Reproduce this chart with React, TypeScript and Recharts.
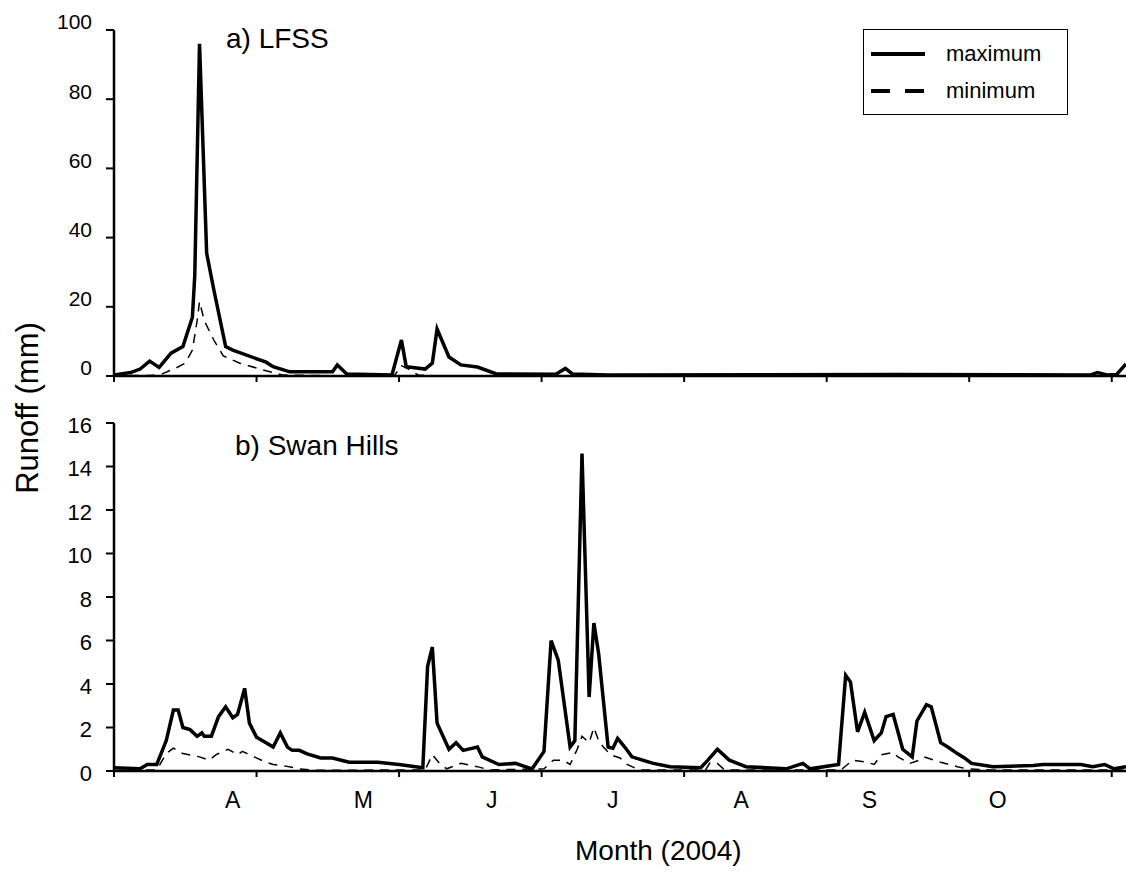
import * as React from "react"
import { LineChart, Line, XAxis, YAxis, Legend } from "recharts"

// day index 0 = start of the record, ticks every 30 days
const dayTicks = [0, 30, 60, 90, 120, 150, 180, 210]
const monthLabels = ["A", "M", "J", "J", "A", "S", "O"]
const monthLabelDays = [25, 52.5, 79.5, 105, 132, 159, 186]
const lfssTicks = [0, 20, 40, 60, 80, 100]
const swanTicks = [0, 2, 4, 6, 8, 10, 12, 14, 16]

// [day, runoff mm]
const lfssMax: Array<[number, number]> = [
  [0, 0.3], [3.5, 1], [5.5, 2], [7.5, 4.3], [9.5, 2.5], [12, 6.6], [14.5, 8.5], [16.5, 17], [17, 29],
  [18, 96], [19.5, 35.5], [21, 25], [23.5, 8.5], [25, 7.5], [32, 4], [33.5, 2.7], [37, 1.2], [46, 1.2],
  [47, 3.2], [49, 0.6], [58.5, 0.3], [60.5, 10.4], [61.5, 2.7], [65.5, 2], [67, 3.7], [68, 13.6],
  [70.5, 5.5], [73, 3.2], [76.5, 2.6], [80.5, 0.6], [93, 0.5], [95, 2.2], [96.5, 0.6], [104, 0.3],
  [165, 0.4], [205.5, 0.3], [207, 1.0], [209, 0.3], [211, 0.4], [213, 3.5],
]

const lfssMin: Array<[number, number]> = [
  [0, 0.1], [9.5, 0.2], [13, 2.3], [15, 3.7], [16.5, 7.5], [17.5, 16], [18, 21.5], [19, 16], [21, 10.4],
  [23, 5.8], [26.5, 3.7], [32, 1.5], [35.5, 0.3], [45, 0.1], [59, 0.1], [60.5, 3], [62, 2], [64, 0.3],
  [67, 0.1], [213, 0.1],
]

const swanMax: Array<[number, number]> = [
  [0, 0.15], [5.5, 0.1], [7, 0.3], [9, 0.3], [11, 1.4], [12.5, 2.8], [13.5, 2.8], [14.5, 2.0], [16, 1.9],
  [17.5, 1.6], [18.5, 1.75], [19, 1.6], [20.5, 1.6], [22, 2.5], [23.5, 2.95], [25, 2.45], [26, 2.6],
  [27.5, 3.8], [28.5, 2.2], [30, 1.55], [32, 1.3], [33.5, 1.1], [35, 1.75], [36.5, 1.1], [37.5, 0.95],
  [39, 0.95], [40.5, 0.8], [43.5, 0.6], [46, 0.6], [49.5, 0.4], [55.5, 0.4], [60, 0.3], [65, 0.15],
  [66, 4.8], [67, 5.7], [68, 2.2], [70.5, 1.0], [72, 1.3], [73.5, 0.95], [76.5, 1.1], [77.5, 0.65],
  [81, 0.3], [84.5, 0.35], [88, 0.1], [90.5, 0.9], [92, 6.0], [93.5, 5.1], [96, 1.1], [97, 1.4],
  [98.5, 14.6], [100, 3.4], [101, 6.8], [102, 5.4], [104, 1.1], [105, 1.05], [106, 1.5], [107.5, 1.1],
  [109, 0.65], [113.5, 0.35], [117, 0.2], [123.5, 0.15], [125, 0.5], [127, 1.0], [129.5, 0.5],
  [133, 0.2], [141.5, 0.1], [145, 0.35], [146.5, 0.1], [152.5, 0.3], [154, 4.4], [155, 4.1],
  [156.5, 1.8], [158, 2.7], [160, 1.4], [161.5, 1.75], [162.5, 2.5], [164, 2.6], [166, 1.0],
  [168, 0.65], [169, 2.3], [171, 3.05], [172, 2.95], [174, 1.3], [175.5, 1.1], [177.5, 0.8],
  [179, 0.6], [180.5, 0.35], [185, 0.2], [193.5, 0.25], [195.5, 0.3], [203.5, 0.3], [206, 0.2],
  [208.5, 0.3], [210.5, 0.1], [213, 0.2],
]

const swanMin: Array<[number, number]> = [
  [0, 0.02], [9, 0.05], [11, 0.8], [12.5, 1.05], [14.5, 0.8], [18, 0.65], [20, 0.5], [21.5, 0.75],
  [24, 1.0], [26, 0.75], [27, 0.9], [29.5, 0.65], [32, 0.4], [33.5, 0.3], [35.5, 0.25], [39, 0.1],
  [42, 0.03], [65.5, 0.05], [67, 0.75], [68.5, 0.35], [70, 0.1], [73, 0.35], [76.5, 0.2], [79, 0.05],
  [90.5, 0.1], [92.5, 0.5], [94.5, 0.5], [96, 0.3], [97.5, 1.0], [98.5, 1.6], [100, 1.3], [101, 2.0],
  [102, 1.4], [103, 1.1], [104.5, 0.75], [106.5, 0.6], [108, 0.3], [110.5, 0.05], [124.5, 0.05],
  [125.5, 0.4], [127, 0.35], [128.5, 0.05], [153, 0.05], [155.5, 0.5], [158.5, 0.4], [160, 0.3],
  [161.5, 0.75], [164, 0.85], [165, 0.65], [167.5, 0.35], [169.5, 0.5], [170.5, 0.65], [174, 0.4],
  [177.5, 0.2], [179.5, 0.1], [184.5, 0.05], [213, 0.05],
]

const FONT = "'Liberation Sans', Arial, sans-serif"
const legendDash = [undefined, "19 15"]
const LEGEND_H = 86

const pts = (arr: Array<[number, number]>) => arr.map(([day, v]) => ({ day, v }))

const axisLine = { stroke: "#000", strokeWidth: 2.5 }
const tickLine = { stroke: "#000", strokeWidth: 2 }

const LegendBox = (props: any) => {
  const { payload = [] } = props
  return (
    <div style={{ border: "1.5px solid #000", width: 205, height: LEGEND_H, boxSizing: "border-box", paddingTop: 5, background: "#fff" }}>
      {payload.map((entry: any, i: number) => (
        <div key={entry.value} style={{ height: 37, display: "flex", alignItems: "center", paddingLeft: 7 }}>
          <svg width={54} height={10}>
            <line x1={0} y1={5} x2={54} y2={5} stroke="#000" strokeWidth={4} strokeDasharray={legendDash[i]} />
          </svg>
          <span style={{ marginLeft: 21, fontFamily: FONT, fontSize: 22, color: "#000" }}>{entry.value}</span>
        </div>
      ))}
    </div>
  )
}

export default function App() {
  return (
    <div style={{ position: "absolute", left: 0, top: 0, width: 1126, height: 875, background: "#fff" }}>
      <div style={{ position: "absolute", left: 0, top: 0 }}>
        {/* the legend keeps LEGEND_H of room at the bottom, so the chart is made that much taller */}
        <LineChart width={1126} height={386 + LEGEND_H} margin={{ top: 30, right: 0, bottom: 0, left: 54 }}>
          <XAxis type="number" dataKey="day" domain={[0, 213]} ticks={dayTicks} tickFormatter={() => ""}
            tickSize={6} height={10} axisLine={axisLine} tickLine={tickLine} allowDataOverflow />
          <YAxis type="number" domain={[0, 100]} ticks={lfssTicks} width={60} tickSize={8} tickMargin={14}
            axisLine={axisLine} tickLine={tickLine} allowDataOverflow
            tick={{ fill: "#000", fontSize: 21, fontFamily: FONT, dy: -8 }} />
          <Legend content={LegendBox} wrapperStyle={{ left: 863, top: 29, width: 205, height: LEGEND_H }} />
          <Line data={pts(lfssMax)} dataKey="v" name="maximum" type="linear" stroke="#000" strokeWidth={3.5}
            dot={false} isAnimationActive={false} />
          <Line data={pts(lfssMin)} dataKey="v" name="minimum" type="linear" stroke="#000" strokeWidth={1.5}
            strokeDasharray="9 7" dot={false} isAnimationActive={false} />
          <text x={226} y={48} fontSize={28} fontFamily={FONT} fill="#000">a) LFSS</text>
        </LineChart>
      </div>
      <div style={{ position: "absolute", left: 0, top: 0 }}>
        <LineChart width={1126} height={875} margin={{ top: 423, right: 0, bottom: 0, left: 54 }}>
          <XAxis type="number" dataKey="day" domain={[0, 213]} ticks={dayTicks} tickFormatter={() => ""}
            tickSize={6} height={8} axisLine={axisLine} tickLine={tickLine} allowDataOverflow />
          <XAxis xAxisId="months" type="number" dataKey="day" domain={[0, 213]} ticks={monthLabelDays}
            tickFormatter={(_v: number, i: number) => monthLabels[i]} height={96} axisLine={false}
            tickLine={false} tickSize={0} tickMargin={13} interval={0} allowDataOverflow
            tick={{ fill: "#000", fontSize: 23, fontFamily: FONT }} />
          <YAxis type="number" domain={[0, 16]} ticks={swanTicks} width={60} tickSize={8} tickMargin={14}
            axisLine={axisLine} tickLine={tickLine} allowDataOverflow
            tick={{ fill: "#000", fontSize: 22, fontFamily: FONT, dy: 2 }} />
          <Line data={pts(swanMax)} dataKey="v" name="maximum" type="linear" stroke="#000" strokeWidth={3.5}
            dot={false} isAnimationActive={false} legendType="none" />
          <Line data={pts(swanMin)} dataKey="v" name="minimum" type="linear" stroke="#000" strokeWidth={1.5}
            strokeDasharray="9 7" dot={false} isAnimationActive={false} legendType="none" />
          <text x={235} y={455} fontSize={28} fontFamily={FONT} fill="#000">b) Swan Hills</text>
          <text x={575} y={860} fontSize={28} fontFamily={FONT} fill="#000">Month (2004)</text>
          <text x={27} y={408} fontSize={31} fontFamily={FONT} fill="#000" textAnchor="middle"
            dominantBaseline="central" transform="rotate(-90 27 408)">Runoff (mm)</text>
        </LineChart>
      </div>
    </div>
  )
}
